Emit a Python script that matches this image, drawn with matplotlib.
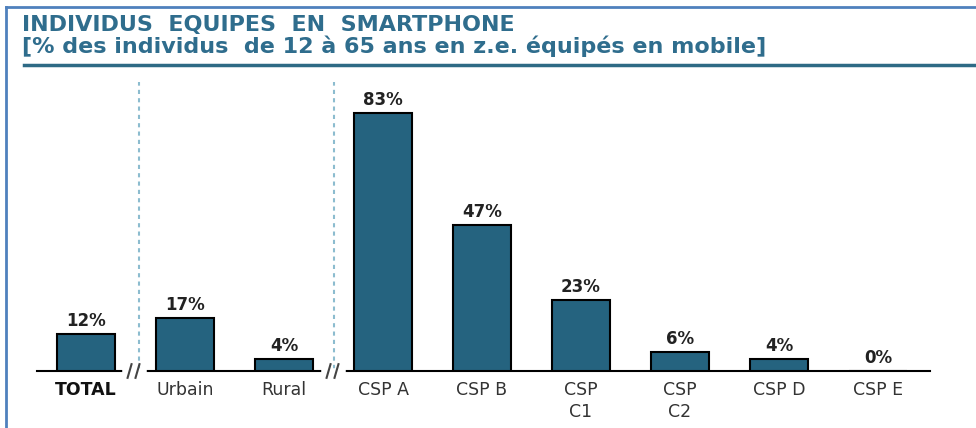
import matplotlib.pyplot as plt
from matplotlib.lines import Line2D

plt.rcParams['font.family'] = ['DejaVu Sans']

# donnees
categories = ['TOTAL', 'Urbain', 'Rural', 'CSP A', 'CSP B', 'CSP\nC1', 'CSP\nC2', 'CSP D', 'CSP E']
valeurs = [12, 17, 4, 83, 47, 23, 6, 4, 0]
etiquettes = ['12%', '17%', '4%', '83%', '47%', '23%', '6%', '4%', '0%']

titre = 'INDIVIDUS  EQUIPES  EN  SMARTPHONE'
sous_titre = '[% des individus  de 12 à 65 ans en z.e. équipés en mobile]'

bleu_bar = '#25637f'
bleu_titre = '#2f6d8d'

fig = plt.figure(figsize=(9.76, 4.28), dpi=100)

# cadre (haut + gauche)
fig.add_artist(Line2D([6/976, 1], [1-7/428, 1-7/428], color='#4f81bd', lw=2))
fig.add_artist(Line2D([6/976, 6/976], [0, 1-7/428], color='#4f81bd', lw=2))

# titre
fig.text(22/976, 1-25/428, titre, fontsize=16, fontweight='bold', color=bleu_titre, va='center')
fig.text(22/976, 1-46/428, sous_titre, fontsize=16, fontweight='bold', color=bleu_titre, va='center')
fig.add_artist(Line2D([24/976, 1], [1-65/428, 1-65/428], color='#2e6a85', lw=2.5))

ax = fig.add_axes([37/976, 57/428, (930-37)/976, 295/428])
x = list(range(len(categories)))
ax.bar(x, valeurs, width=0.59, color=bleu_bar, edgecolor='black', linewidth=1.5, zorder=3)

for xi, v, lab in zip(x, valeurs, etiquettes):
    ax.text(xi, v + 1.3, lab, ha='center', va='bottom', fontsize=12, fontweight='bold', color='#222222')

ax.set_xlim(-0.495, 8.525)
ax.set_ylim(0, 95)

# separateurs pointilles
for xs in [0.535, 2.505]:
    ax.plot([xs, xs], [0.5, 93], ls=(0, (2, 2)), color='#8cbccf', lw=1.5, zorder=1)

# marques de coupure //
for xb in [0.49, 2.5]:
    ax.plot([xb - 0.1, xb + 0.1], [0, 0], color='white', lw=4, zorder=4, clip_on=False)
    for dx in [-0.05, 0.03]:
        ax.plot([xb + dx - 0.02, xb + dx + 0.02], [-2.2, 2.2], color='#444444', lw=1.5, zorder=5, clip_on=False)

for s in ['top', 'right', 'left']:
    ax.spines[s].set_visible(False)
ax.spines['bottom'].set_linewidth(1.5)
ax.set_yticks([])
ax.set_xticks(x)
ax.set_xticklabels(categories, fontsize=12.5, color='#333333', linespacing=1.3)
ax.tick_params(axis='x', length=0, pad=7)
ax.get_xticklabels()[0].set_fontweight('bold')
ax.get_xticklabels()[0].set_color('#111111')

fig.savefig('out.png', dpi=100)
